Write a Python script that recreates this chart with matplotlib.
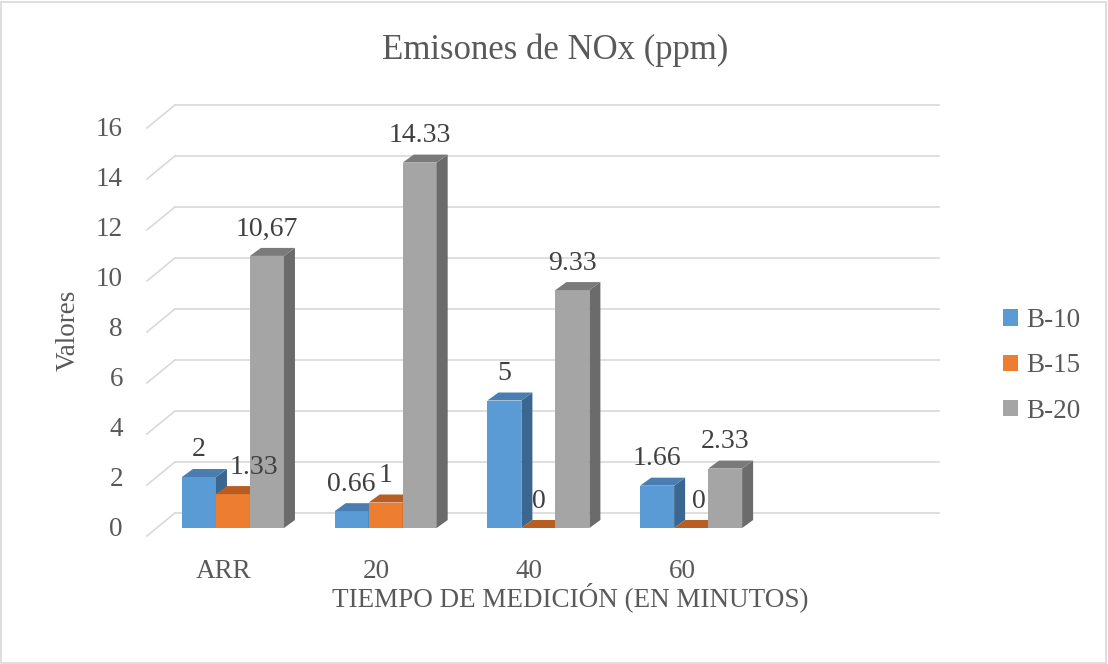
import matplotlib
matplotlib.use("Agg")
import matplotlib.pyplot as plt
from matplotlib.patches import Polygon, Rectangle, Patch

# data
categories = ["ARR", "20", "40", "60"]
series_names = ["B-10", "B-15", "B-20"]
b10 = [2, 0.66, 5, 1.66]
b15 = [1.33, 1, 0, 0]
b20 = [10.67, 14.33, 9.33, 2.33]
b10_labels = ["2", "0.66", "5", "1.66"]
b15_labels = ["1.33", "1", "0", "0"]
b20_labels = ["10,67", "14.33", "9.33", "2.33"]
y_ticks = [0, 2, 4, 6, 8, 10, 12, 14, 16]

series = [b10, b15, b20]
series_labels = [b10_labels, b15_labels, b20_labels]

# front / top / side shades for each series
front_cols = ["#5B9BD5", "#ED7D31", "#A5A5A5"]
top_cols = ["#4A7EB0", "#B95E22", "#7A7A7A"]
side_cols = ["#3A6690", "#B05A20", "#6B6B6B"]

text_col = "#595959"
grid_col = "#D9D9D9"
font = "Liberation Serif"
plt.rcParams["font.family"] = [font, "DejaVu Serif"]

W, H = 1108, 664
fig = plt.figure(figsize=(W / 100, H / 100), dpi=100)
fig.patch.set_facecolor("white")
fig.add_artist(Rectangle((1 / W, 1 / H), 1 - 3 / W, 1 - 3 / H, transform=fig.transFigure,
                         fill=False, edgecolor=grid_col, lw=1.2))

# plot area in pixels (bar plane)
left_px, right_px, base_px, top_px = 156.6, 920.2, 528, 120
ax = fig.add_axes([left_px / W, (H - base_px) / H, (right_px - left_px) / W, (base_px - top_px) / H])
ax.set_xlim(-0.5, 4.5)
ax.set_ylim(0, 16)
ax.axis("off")

PX_X = (right_px - left_px) / 5
PX_Y = (base_px - top_px) / 16

# offsets of back wall and front edge relative to the bar plane
bx, by = 18.3 / PX_X, 15 / PX_Y
fx, fy = -9.7 / PX_X, -8 / PX_Y

for v in y_ticks:
    ax.plot([-0.5 + bx, 4.5 + bx], [v + by, v + by], color=grid_col, lw=1.2, zorder=0, clip_on=False)
    ax.plot([-0.5 + fx, -0.5 + bx], [v + fy, v + by], color=grid_col, lw=1.2, zorder=0, clip_on=False)
    ax.annotate(str(v), (-0.5, v), xytext=(-33.6, -(1 + 0.5 * v)), textcoords="offset pixels",
                ha="right", va="center", fontsize=19.5, color=text_col, annotation_clip=False)

# bars with a small depth
w = 34 / PX_X
ddx, ddy = 11 / PX_X, 8 / PX_Y
label_shift = {(1, 0): 21, (1, 3): 8}
z = 2
for i in range(len(categories)):
    for j, vals in enumerate(series):
        h = vals[i]
        c = i + (j - 1) * w
        x0, x1 = c - w / 2, c + w / 2
        if h > 0:
            ax.add_patch(Rectangle((x0, 0), w, h, facecolor=front_cols[j], edgecolor="none", zorder=z))
            ax.add_patch(Polygon([(x1, 0), (x1, h), (x1 + ddx, h + ddy), (x1 + ddx, ddy)],
                                 facecolor=side_cols[j], edgecolor="none", zorder=z))
        ax.add_patch(Polygon([(x0, h), (x1, h), (x1 + ddx, h + ddy), (x0 + ddx, h + ddy)],
                             facecolor=top_cols[j], edgecolor="none", zorder=z))
        z += 1
        ax.annotate(series_labels[j][i], (c, h), xytext=(label_shift.get((j, i), 0), 27),
                    textcoords="offset pixels", ha="center", va="center", fontsize=20,
                    color="#404040", zorder=50, annotation_clip=False)
    ax.annotate(categories[i], (i, 0), xytext=(-9, -44), textcoords="offset pixels",
                ha="center", va="center", fontsize=19.5, color=text_col, annotation_clip=False)

fig.text(555 / W, 1 - 59 / H, "Emisones de NOx (ppm)", ha="center", va="baseline",
         fontsize=25, color=text_col)
fig.text(570 / W, 1 - 606 / H, "TIEMPO DE MEDICIÓN (EN MINUTOS)", ha="center", va="baseline",
         fontsize=19.5, color=text_col)
fig.text(68 / W, 1 - 330 / H, "Valores", rotation=90, ha="center", va="center",
         fontsize=19.5, color=text_col)

handles = [Patch(facecolor=c, edgecolor="none") for c in front_cols]
ax.legend(handles, series_names, loc="center left", bbox_to_anchor=(1003 / W, 1 - 366 / H),
          bbox_transform=fig.transFigure, frameon=False, fontsize=19.5, labelcolor=text_col,
          handlelength=0.55, handleheight=0.55, handletextpad=0.3, labelspacing=0.75,
          borderpad=0, borderaxespad=0)

fig.savefig("out.png", dpi=100)
